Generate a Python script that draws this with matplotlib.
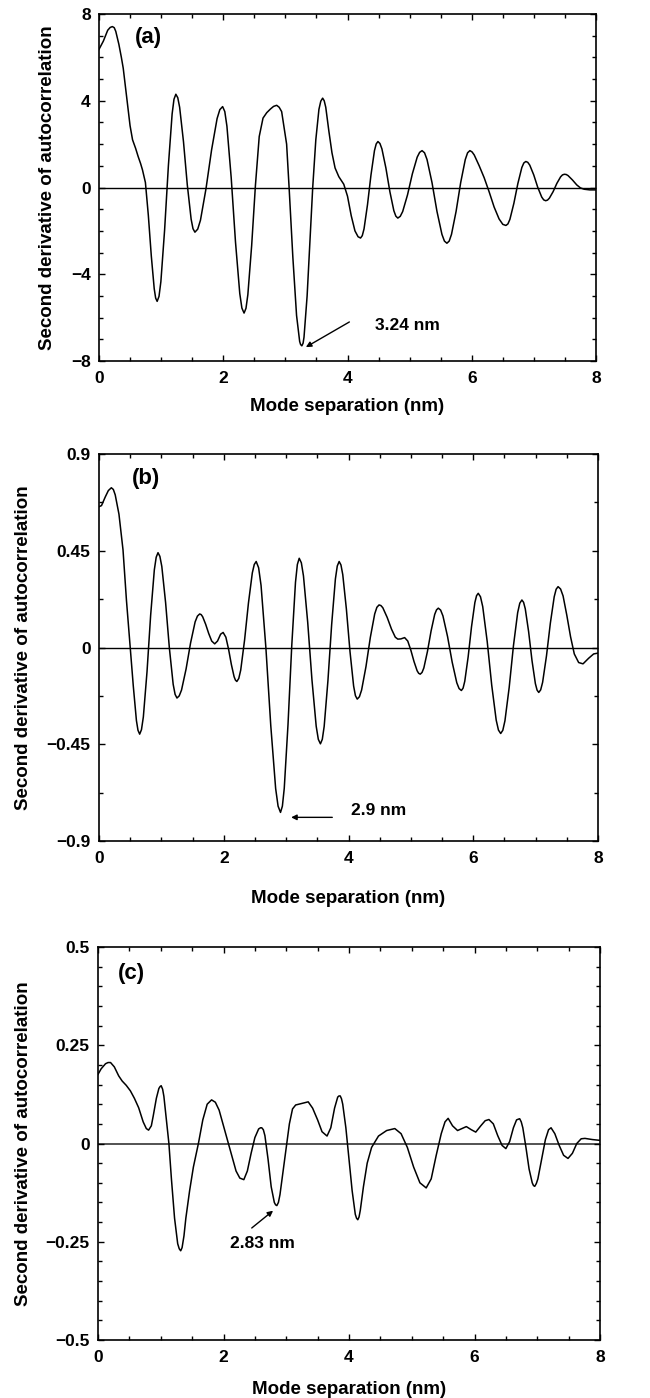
import matplotlib
matplotlib.use("Agg")
import matplotlib.pyplot as plt
from matplotlib.ticker import MultipleLocator, FixedLocator, FixedFormatter

plt.rcParams['font.family'] = ['Liberation Sans', 'DejaVu Sans']
plt.rcParams['font.weight'] = 'bold'

# ---------------- data ----------------
# panel (a)
xa = [0.00, 0.07, 0.14, 0.18, 0.215, 0.245, 0.27, 0.32, 0.36, 0.39,
      0.43, 0.47, 0.50, 0.54, 0.59, 0.63, 0.67, 0.70, 0.747, 0.794,
      0.842, 0.889, 0.912, 0.936, 0.966, 0.996, 1.056, 1.117, 1.177, 1.207,
      1.237, 1.268, 1.298, 1.360, 1.421, 1.483, 1.513, 1.544, 1.589, 1.633,
      1.722, 1.812, 1.901, 1.945, 1.99, 2.025, 2.059, 2.128, 2.197, 2.266,
      2.30, 2.335, 2.366, 2.396, 2.457, 2.518, 2.579, 2.64, 2.70, 2.76,
      2.81, 2.86, 2.90, 2.94, 3.02, 3.06, 3.12, 3.18, 3.23, 3.245,
      3.265, 3.285, 3.30, 3.35, 3.40, 3.44, 3.49, 3.54, 3.57, 3.60,
      3.625, 3.65, 3.70, 3.75, 3.80, 3.86, 3.94, 4.00, 4.06, 4.12,
      4.17, 4.21, 4.238, 4.266, 4.322, 4.378, 4.434, 4.462, 4.49, 4.522,
      4.554, 4.618, 4.682, 4.746, 4.778, 4.81, 4.849, 4.888, 4.966, 5.044,
      5.122, 5.161, 5.20, 5.24, 5.28, 5.36, 5.44, 5.52, 5.56, 5.60,
      5.637, 5.674, 5.748, 5.822, 5.896, 5.933, 5.97, 6.005, 6.04, 6.12,
      6.20, 6.28, 6.36, 6.44, 6.50, 6.55, 6.582, 6.614, 6.678, 6.742,
      6.806, 6.838, 6.87, 6.902, 6.934, 6.998, 7.062, 7.126, 7.158, 7.19,
      7.22, 7.25, 7.31, 7.37, 7.43, 7.46, 7.49, 7.52, 7.55, 7.62,
      7.69, 7.75, 7.81, 7.90, 8.00]
ya = [6.37, 6.75, 7.25, 7.38, 7.42, 7.37, 7.20, 6.60, 6.00, 5.50,
      4.55, 3.60, 2.85, 2.20, 1.80, 1.43, 1.10, 0.81, 0.23, -1.28,
      -3.16, -4.67, -5.10, -5.25, -5.02, -4.34, -1.96, 1.01, 3.39, 4.07,
      4.30, 4.14, 3.70, 2.11, 0.13, -1.46, -1.90, -2.06, -1.92, -1.51,
      -0.06, 1.73, 3.18, 3.59, 3.73, 3.50, 2.83, 0.45, -2.51, -4.89,
      -5.56, -5.79, -5.57, -4.94, -2.69, 0.10, 2.35, 3.20, 3.45, 3.62,
      3.74, 3.79, 3.70, 3.50, 2.00, 0.00, -3.20, -5.90, -7.10, -7.24,
      -7.30, -7.18, -6.90, -5.00, -2.20, 0.00, 2.20, 3.60, 3.98, 4.12,
      4.00, 3.70, 2.60, 1.60, 0.90, 0.50, 0.15, -0.40, -1.30, -2.00,
      -2.27, -2.33, -2.22, -1.91, -0.79, 0.58, 1.70, 2.01, 2.12, 2.03,
      1.78, 0.90, -0.19, -1.07, -1.32, -1.41, -1.33, -1.11, -0.34, 0.63,
      1.40, 1.62, 1.70, 1.60, 1.29, 0.23, -1.10, -2.16, -2.47, -2.57,
      -2.47, -2.16, -1.10, 0.23, 1.29, 1.60, 1.70, 1.64, 1.50, 1.00,
      0.45, -0.20, -0.90, -1.45, -1.70, -1.75, -1.68, -1.47, -0.73, 0.18,
      0.92, 1.13, 1.20, 1.16, 1.03, 0.58, 0.01, -0.44, -0.57, -0.61,
      -0.58, -0.49, -0.19, 0.19, 0.49, 0.58, 0.61, 0.60, 0.55, 0.35,
      0.12, -0.02, -0.08, -0.11, -0.11]

# panel (b)
xb = [0.00, 0.04, 0.10, 0.15, 0.198, 0.23, 0.26, 0.32, 0.385, 0.44,
      0.50, 0.55, 0.60, 0.625, 0.652, 0.681, 0.711, 0.770, 0.828, 0.887,
      0.917, 0.946, 0.976, 1.007, 1.068, 1.128, 1.189, 1.22, 1.25, 1.286,
      1.323, 1.396, 1.468, 1.541, 1.578, 1.614, 1.638, 1.662, 1.710, 1.759,
      1.807, 1.855, 1.90, 1.95, 1.99, 2.034, 2.078, 2.122, 2.166, 2.188,
      2.21, 2.241, 2.272, 2.334, 2.396, 2.458, 2.489, 2.52, 2.559, 2.598,
      2.676, 2.754, 2.832, 2.871, 2.91, 2.94, 2.97, 3.03, 3.09, 3.15,
      3.18, 3.21, 3.244, 3.278, 3.346, 3.414, 3.482, 3.516, 3.55, 3.58,
      3.61, 3.67, 3.73, 3.79, 3.82, 3.85, 3.879, 3.908, 3.966, 4.024,
      4.082, 4.111, 4.14, 4.175, 4.21, 4.28, 4.35, 4.42, 4.455, 4.49,
      4.52, 4.55, 4.62, 4.69, 4.75, 4.79, 4.84, 4.90, 4.95, 5.00,
      5.05, 5.10, 5.125, 5.15, 5.179, 5.208, 5.266, 5.324, 5.382, 5.411,
      5.44, 5.477, 5.514, 5.588, 5.662, 5.736, 5.773, 5.81, 5.837, 5.864,
      5.918, 5.972, 6.026, 6.053, 6.08, 6.116, 6.152, 6.224, 6.296, 6.368,
      6.404, 6.44, 6.474, 6.508, 6.576, 6.644, 6.712, 6.746, 6.78, 6.807,
      6.834, 6.888, 6.942, 6.996, 7.023, 7.05, 7.081, 7.112, 7.174, 7.236,
      7.298, 7.329, 7.36, 7.40, 7.44, 7.50, 7.56, 7.62, 7.69, 7.76,
      7.85, 7.93, 8.00]
yb = [0.655, 0.66, 0.70, 0.73, 0.743, 0.735, 0.71, 0.62, 0.454, 0.22,
      0.00, -0.18, -0.34, -0.385, -0.403, -0.382, -0.323, -0.112, 0.150, 0.361,
      0.420, 0.441, 0.424, 0.377, 0.208, -0.002, -0.171, -0.218, -0.235, -0.225,
      -0.198, -0.100, 0.021, 0.119, 0.146, 0.156, 0.153, 0.143, 0.108, 0.065,
      0.030, 0.017, 0.030, 0.062, 0.070, 0.048, -0.009, -0.079, -0.136, -0.152,
      -0.158, -0.144, -0.105, 0.035, 0.207, 0.347, 0.386, 0.400, 0.371, 0.289,
      -0.003, -0.364, -0.656, -0.738, -0.767, -0.738, -0.655, -0.359, 0.007, 0.303,
      0.386, 0.415, 0.394, 0.333, 0.117, -0.150, -0.366, -0.427, -0.448, -0.427,
      -0.367, -0.155, 0.107, 0.319, 0.379, 0.400, 0.384, 0.339, 0.179, -0.019,
      -0.179, -0.224, -0.240, -0.229, -0.198, -0.089, 0.047, 0.156, 0.187, 0.198,
      0.195, 0.185, 0.140, 0.085, 0.048, 0.039, 0.040, 0.046, 0.030, -0.013,
      -0.065, -0.108, -0.120, -0.124, -0.116, -0.095, -0.018, 0.077, 0.154, 0.175,
      0.183, 0.174, 0.147, 0.051, -0.068, -0.164, -0.191, -0.200, -0.189, -0.157,
      -0.044, 0.096, 0.209, 0.241, 0.252, 0.236, 0.190, 0.027, -0.175, -0.338,
      -0.384, -0.400, -0.385, -0.341, -0.186, 0.007, 0.162, 0.206, 0.221, 0.210,
      0.180, 0.073, -0.061, -0.168, -0.198, -0.209, -0.197, -0.162, -0.039, 0.113,
      0.236, 0.271, 0.283, 0.272, 0.240, 0.150, 0.050, -0.030, -0.070, -0.076,
      -0.050, -0.030, -0.026]

# panel (c)
xc = [0.00, 0.05, 0.12, 0.16, 0.20, 0.26, 0.33, 0.385, 0.45, 0.516,
      0.58, 0.648, 0.72, 0.77, 0.806, 0.85, 0.88, 0.93, 0.97, 0.99,
      1.007, 1.03, 1.05, 1.09, 1.13, 1.17, 1.22, 1.27, 1.295, 1.318,
      1.34, 1.37, 1.40, 1.46, 1.52, 1.60, 1.67, 1.74, 1.81, 1.87,
      1.93, 2.00, 2.07, 2.14, 2.20, 2.26, 2.324, 2.38, 2.44, 2.50,
      2.56, 2.59, 2.61, 2.635, 2.66, 2.71, 2.76, 2.81, 2.83, 2.85,
      2.875, 2.90, 2.95, 3.00, 3.05, 3.10, 3.15, 3.25, 3.35, 3.42,
      3.50, 3.57, 3.65, 3.71, 3.77, 3.82, 3.84, 3.86, 3.88, 3.90,
      3.95, 4.00, 4.05, 4.10, 4.12, 4.14, 4.16, 4.18, 4.23, 4.29,
      4.36, 4.47, 4.60, 4.73, 4.83, 4.93, 5.03, 5.13, 5.23, 5.31,
      5.39, 5.47, 5.53, 5.58, 5.65, 5.73, 5.80, 5.87, 5.95, 6.02,
      6.10, 6.17, 6.23, 6.30, 6.37, 6.44, 6.50, 6.56, 6.62, 6.67,
      6.70, 6.72, 6.745, 6.77, 6.82, 6.87, 6.92, 6.94, 6.96, 6.985,
      7.01, 7.07, 7.13, 7.18, 7.22, 7.28, 7.35, 7.42, 7.49, 7.56,
      7.63, 7.70, 7.76, 7.88, 8.00]
yc = [0.176, 0.190, 0.203, 0.206, 0.206, 0.195, 0.172, 0.159, 0.148, 0.134,
      0.115, 0.091, 0.055, 0.038, 0.034, 0.045, 0.070, 0.115, 0.140, 0.145,
      0.147, 0.138, 0.120, 0.060, 0.000, -0.090, -0.190, -0.255, -0.268, -0.273,
      -0.265, -0.235, -0.190, -0.120, -0.060, 0.000, 0.060, 0.100, 0.111, 0.105,
      0.085, 0.045, 0.006, -0.035, -0.070, -0.088, -0.092, -0.070, -0.025, 0.015,
      0.037, 0.040, 0.040, 0.035, 0.020, -0.040, -0.110, -0.150, -0.156, -0.158,
      -0.150, -0.130, -0.070, -0.010, 0.050, 0.088, 0.098, 0.102, 0.106, 0.090,
      0.060, 0.030, 0.019, 0.040, 0.090, 0.118, 0.121, 0.121, 0.114, 0.100,
      0.040, -0.040, -0.120, -0.180, -0.190, -0.194, -0.187, -0.170, -0.110, -0.050,
      -0.010, 0.019, 0.033, 0.038, 0.025, -0.010, -0.060, -0.100, -0.113, -0.090,
      -0.030, 0.025, 0.055, 0.064, 0.045, 0.033, 0.038, 0.043, 0.035, 0.029,
      0.045, 0.058, 0.061, 0.050, 0.020, -0.005, -0.013, 0.005, 0.040, 0.060,
      0.062, 0.063, 0.055, 0.040, -0.010, -0.065, -0.100, -0.107, -0.109, -0.102,
      -0.090, -0.040, 0.010, 0.035, 0.040, 0.025, -0.005, -0.030, -0.038, -0.025,
      0.000, 0.012, 0.013, 0.010, 0.008]

x_ticks = [0, 2, 4, 6, 8]
x_tick_labels = ['0', '2', '4', '6', '8']
ya_ticks = [-8, -4, 0, 4, 8]
ya_tick_labels = ['\u22128', '\u22124', '0', '4', '8']
yb_ticks = [-0.9, -0.45, 0, 0.45, 0.9]
yb_tick_labels = ['\u22120.9', '\u22120.45', '0', '0.45', '0.9']
yc_ticks = [-0.5, -0.25, 0, 0.25, 0.5]
yc_tick_labels = ['\u22120.5', '\u22120.25', '0', '0.25', '0.5']

panel_labels = ['(a)', '(b)', '(c)']
annot_texts = ['3.24 nm', '2.9 nm', '2.83 nm']

xlabel = 'Mode separation (nm)'
ylabel = 'Second derivative of autocorrelation'

# ---------------- figure ----------------
W, H = 650, 1398
fig = plt.figure(figsize=(W / 100, H / 100), dpi=100)


def axes_px(left, right, top, bottom):
    return fig.add_axes([left / W, 1 - bottom / H, (right - left) / W, (bottom - top) / H])


ax_a = axes_px(99, 596, 14, 361)
ax_b = axes_px(99, 598, 454, 841)
ax_c = axes_px(98, 600, 947, 1340)

specs = [
    (ax_a, xa, ya, (-8, 8), ya_ticks, ya_tick_labels, 1.0, 'black', 1.0),
    (ax_b, xb, yb, (-0.9, 0.9), yb_ticks, yb_tick_labels, 0.225, 'black', 1.0),
    (ax_c, xc, yc, (-0.5, 0.5), yc_ticks, yc_tick_labels, 0.05, '#444444', 1.3),
]

for ax, xs, ys, ylim, yt, ytl, yminor, zc, zw in specs:
    ax.axhline(0, color=zc, lw=zw, zorder=1)
    ax.plot(xs, ys, color='black', lw=1.1, zorder=2, solid_joinstyle='round')
    ax.set_xlim(0, 8)
    ax.set_ylim(*ylim)
    ax.xaxis.set_major_locator(FixedLocator(x_ticks))
    ax.xaxis.set_major_formatter(FixedFormatter(x_tick_labels))
    ax.xaxis.set_minor_locator(MultipleLocator(0.5))
    ax.yaxis.set_major_locator(FixedLocator(yt))
    ax.yaxis.set_major_formatter(FixedFormatter(ytl))
    ax.yaxis.set_minor_locator(MultipleLocator(yminor))
    ax.tick_params(which='both', direction='in', top=True, right=True, width=1.0)
    ax.tick_params(which='major', length=4.0, labelsize=12.5)
    ax.tick_params(axis='x', which='major', pad=7.5)
    ax.tick_params(axis='y', which='major', pad=6)
    ax.tick_params(which='minor', length=3.0)
    for lab in ax.get_xticklabels() + ax.get_yticklabels():
        lab.set_fontweight('bold')
    for s in ax.spines.values():
        s.set_linewidth(1.2)
    ax.set_xlabel(xlabel, fontsize=13.5, fontweight='bold')
    ax.set_ylabel(ylabel, fontsize=13.5, fontweight='bold')

ax_a.xaxis.set_label_coords(0.5, -0.107)
ax_b.xaxis.set_label_coords(0.5, -0.127)
ax_c.xaxis.set_label_coords(0.5, -0.104)
ax_a.yaxis.set_label_coords(-0.0865, 0.5)
ax_b.yaxis.set_label_coords(-0.135, 0.5)
ax_c.yaxis.set_label_coords(-0.132, 0.5)

# panel labels
ax_a.text(0.79, 6.93, panel_labels[0], fontsize=16, fontweight='bold', ha='center', va='center')
ax_b.text(0.75, 0.784, panel_labels[1], fontsize=16, fontweight='bold', ha='center', va='center')
ax_c.text(0.53, 0.432, panel_labels[2], fontsize=16, fontweight='bold', ha='center', va='center')

arrow = dict(arrowstyle='-|>', color='black', lw=1.0, mutation_scale=8, shrinkA=0, shrinkB=0)

# annotations
ax_a.annotate('', xy=(3.33, -7.36), xytext=(4.03, -6.2), arrowprops=arrow)
ax_a.text(4.45, -6.35, annot_texts[0], fontsize=12.5, fontweight='bold', ha='left', va='center')

ax_b.annotate('', xy=(3.08, -0.79), xytext=(3.74, -0.79), arrowprops=arrow)
ax_b.text(4.04, -0.76, annot_texts[1], fontsize=12.5, fontweight='bold', ha='left', va='center')

ax_c.annotate('', xy=(2.79, -0.171), xytext=(2.45, -0.215), arrowprops=arrow)
ax_c.text(2.62, -0.254, annot_texts[2], fontsize=12.5, fontweight='bold', ha='center', va='center')

fig.savefig('out.png', dpi=100)
